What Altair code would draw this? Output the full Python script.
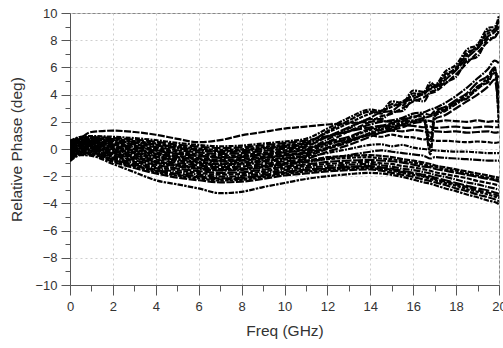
import altair as alt
import pandas as pd

# Frequency grid (GHz)
freq = [0, 0.5, 1, 2, 3, 4, 5, 6, 7, 8, 9, 10, 11,
        12, 13, 14, 14.5, 15, 15.5, 16, 16.5, 16.8, 17, 17.5, 18, 18.5, 19, 19.5, 19.8, 20]

# Relative phase (deg) per measured curve
t01 = [0.1, 0.8, 1.25, 1.35, 1.25, 1.05, 0.75, 0.5, 0.65, 1.0, 1.25, 1.5, 1.65,
       1.8, 1.9, 2.0, 2.05, 2.0, 2.1, 2.0, 2.1, 2.05, 2.0, 2.1, 2.05, 2.0, 2.1, 2.0, 2.05, 2.0]
a01 = [0.6, 0.9, 0.95, 0.9, 0.8, 0.65, 0.45, 0.3, 0.2, 0.25, 0.4, 0.55, 0.75,
       1.5, 2.3, 2.9, 2.8, 3.5, 3.4, 4.3, 4.2, 4.9, 4.7, 5.7, 6.2, 7.3, 7.7, 8.9, 9.0, 9.8]
c02 = [0.53, 0.84, 0.88, 0.81, 0.69, 0.53, 0.32, 0.17, 0.07, 0.12, 0.27, 0.43, 0.62,
       0.95, 1.3, 1.6, 1.7, 1.65, 1.75, 1.7, 1.6, 1.65, 1.55, 1.6, 1.65, 1.55, 1.6, 1.65, 1.6, 1.6]
a05 = [0.42, 0.73, 0.77, 0.66, 0.51, 0.33, 0.12, -0.04, -0.15, -0.1, 0.06, 0.22, 0.42,
       1.3, 2.1, 2.75, 2.6, 3.3, 3.2, 4.1, 4.0, 4.7, 4.6, 5.5, 5.9, 7.1, 7.4, 8.7, 8.8, 9.6]
a02 = [0.46, 0.77, 0.82, 0.72, 0.58, 0.41, 0.2, 0.04, -0.07, -0.02, 0.14, 0.3, 0.5,
       1.2, 1.9, 2.6, 2.8, 3.1, 3.5, 3.9, 4.2, 4.5, 4.6, 5.3, 6.0, 6.9, 7.6, 8.5, 8.8, 9.3]
b01 = [0.38, 0.69, 0.73, 0.6, 0.45, 0.26, 0.04, -0.12, -0.22, -0.17, -0.02, 0.15, 0.34,
       0.9, 1.3, 1.8, 2.0, 2.1, 2.3, 2.6, 2.7, 2.9, 3.0, 3.4, 3.9, 4.5, 5.2, 5.9, 6.5, 6.3]
a03 = [0.31, 0.63, 0.67, 0.51, 0.34, 0.14, -0.09, -0.25, -0.36, -0.31, -0.15, 0.03, 0.21,
       0.9, 1.6, 2.3, 2.7, 2.8, 3.4, 3.7, 4.1, 4.4, 4.5, 5.1, 5.8, 6.7, 7.4, 8.3, 8.6, 9.0]
d01 = [0.24, 0.56, 0.6, 0.42, 0.23, 0.01, -0.21, -0.38, -0.49, -0.44, -0.28, -0.1, 0.09,
       0.4, 0.7, 1.0, 0.9, 1.05, 0.9, 0.85, 0.7, 0.75, 0.6, 0.6, 0.55, 0.5, 0.55, 0.5, 0.45, 0.5]
a06 = [0.18, 0.51, 0.55, 0.35, 0.15, -0.08, -0.32, -0.48, -0.6, -0.55, -0.38, -0.2, -0.02,
       0.7, 1.5, 2.2, 2.2, 2.7, 2.8, 3.6, 3.5, 4.2, 4.3, 4.9, 5.3, 6.5, 6.8, 8.1, 8.2, 8.8]
b02 = [0.15, 0.48, 0.52, 0.31, 0.1, -0.13, -0.37, -0.53, -0.65, -0.6, -0.43, -0.25, -0.07,
       0.5, 0.9, 1.5, 1.7, 1.9, 2.2, 2.3, 2.6, 2.5, 2.8, 3.1, 3.6, 4.1, 4.9, 5.4, 6.0, 3.0]
a04 = [0.08, 0.42, 0.45, 0.22, -0.01, -0.26, -0.49, -0.66, -0.78, -0.73, -0.56, -0.38, -0.19,
       0.5, 1.3, 2.0, 2.4, 2.6, 3.0, 3.5, 3.8, 4.1, 4.2, 4.8, 5.5, 6.3, 7.1, 7.9, 8.3, 8.6]
b06 = [0.04, 0.38, 0.41, 0.16, -0.07, -0.33, -0.57, -0.74, -0.86, -0.81, -0.64, -0.45, -0.26,
       0.3, 0.8, 1.4, 1.6, 1.8, 2.0, 2.4, 2.4, 0.6, 2.6, 3.0, 3.4, 4.0, 4.5, 5.3, 5.8, 1.5]
c03 = [0.01, 0.35, 0.38, 0.12, -0.12, -0.38, -0.62, -0.79, -0.91, -0.86, -0.69, -0.5, -0.32,
       0.1, 0.6, 1.1, 1.2, 1.35, 1.3, 1.4, 1.3, 1.2, 1.3, 1.25, 1.3, 1.2, 1.25, 1.3, 1.2, 1.25]
b03 = [-0.06, 0.29, 0.32, 0.03, -0.23, -0.5, -0.75, -0.92, -1.05, -1.0, -0.82, -0.63, -0.45,
       0.1, 0.6, 1.2, 1.5, 1.6, 1.9, 2.1, 2.2, -0.4, 2.4, 2.8, 3.3, 3.8, 4.4, 5.1, 5.6, 5.2]
b05 = [-0.1, 0.25, 0.28, -0.03, -0.3, -0.57, -0.82, -1.0, -1.12, -1.07, -0.9, -0.7, -0.52,
       0.0, 0.5, 1.1, 1.4, 1.5, 1.8, 2.0, 2.3, 2.4, 2.6, 2.9, 3.5, 3.7, 4.6, 4.9, 5.9, 4.0]
d02 = [-0.14, 0.21, 0.23, -0.08, -0.37, -0.65, -0.9, -1.08, -1.2, -1.15, -0.98, -0.78, -0.6,
       -0.3, 0.0, 0.3, 0.35, 0.2, 0.3, 0.1, 0.0, -0.05, -0.1, -0.15, -0.2, -0.2, -0.25, -0.3, -0.3, -0.3]
b04 = [-0.21, 0.15, 0.17, -0.17, -0.48, -0.77, -1.03, -1.21, -1.34, -1.29, -1.11, -0.9, -0.73,
       -0.2, 0.3, 0.9, 1.2, 1.4, 1.6, 1.9, 2.0, 0.1, 2.2, 2.5, 3.0, 3.5, 4.0, 4.6, 5.1, 2.2]
e01 = [-0.28, 0.08, 0.1, -0.27, -0.59, -0.89, -1.16, -1.34, -1.47, -1.42, -1.24, -1.03, -0.86,
       -0.6, -0.5, -0.45, -0.5, -0.6, -0.75, -0.85, -1.0, -1.1, -1.2, -1.35, -1.5, -1.65, -1.8, -1.95, -2.05, -2.1]
e09 = [-0.32, 0.05, 0.06, -0.32, -0.65, -0.96, -1.22, -1.41, -1.54, -1.49, -1.31, -1.1, -0.92,
       -0.75, -0.65, -0.6, -0.7, -0.75, -0.9, -1.0, -1.15, -1.25, -1.3, -1.5, -1.6, -1.8, -1.95, -2.1, -2.2, -2.25]
d03 = [-0.35, 0.02, 0.03, -0.36, -0.7, -1.02, -1.28, -1.47, -1.6, -1.55, -1.37, -1.15, -0.98,
       -0.7, -0.45, -0.2, -0.1, -0.2, -0.3, -0.4, -0.5, -0.7, -0.6, -0.65, -0.7, -0.75, -0.8, -0.85, -0.85, -0.85]
e02 = [-0.44, -0.06, -0.05, -0.47, -0.83, -1.16, -1.44, -1.62, -1.76, -1.71, -1.52, -1.3, -1.14,
       -0.95, -0.85, -0.8, -0.85, -0.9, -1.0, -1.15, -1.3, -1.35, -1.45, -1.6, -1.75, -1.9, -2.05, -2.2, -2.3, -2.4]
e03 = [-0.51, -0.13, -0.12, -0.56, -0.94, -1.29, -1.56, -1.75, -1.89, -1.84, -1.65, -1.43, -1.26,
       -1.1, -1.0, -0.95, -1.05, -1.1, -1.25, -1.35, -1.5, -1.6, -1.7, -1.85, -2.0, -2.15, -2.35, -2.5, -2.6, -2.7]
e04 = [-0.58, -0.19, -0.18, -0.65, -1.05, -1.41, -1.69, -1.88, -2.03, -1.98, -1.78, -1.55, -1.39,
       -1.25, -1.15, -1.1, -1.2, -1.3, -1.45, -1.55, -1.7, -1.8, -1.9, -2.05, -2.25, -2.45, -2.6, -2.8, -2.9, -3.0]
e05 = [-0.65, -0.26, -0.25, -0.75, -1.16, -1.53, -1.82, -2.01, -2.16, -2.11, -1.91, -1.68, -1.52,
       -1.4, -1.3, -1.25, -1.35, -1.45, -1.6, -1.75, -1.9, -2.0, -2.1, -2.3, -2.5, -2.7, -2.9, -3.05, -3.2, -3.3]
e10 = [-0.69, -0.3, -0.29, -0.8, -1.22, -1.6, -1.9, -2.09, -2.24, -2.19, -1.99, -1.75, -1.6,
       -1.45, -1.35, -1.3, -1.45, -1.5, -1.7, -1.8, -2.0, -2.1, -2.2, -2.4, -2.6, -2.8, -3.05, -3.2, -3.35, -3.45]
e06 = [-0.73, -0.34, -0.33, -0.86, -1.29, -1.68, -1.97, -2.17, -2.32, -2.27, -2.07, -1.83, -1.67,
       -1.55, -1.45, -1.4, -1.5, -1.6, -1.75, -1.9, -2.05, -2.2, -2.3, -2.5, -2.7, -2.95, -3.15, -3.35, -3.5, -3.6]
e07 = [-0.8, -0.4, -0.4, -0.95, -1.4, -1.8, -2.1, -2.3, -2.45, -2.4, -2.2, -1.95, -1.8,
       -1.65, -1.55, -1.5, -1.6, -1.75, -1.9, -2.05, -2.25, -2.35, -2.45, -2.65, -2.9, -3.1, -3.35, -3.55, -3.7, -3.85]
e08 = [-0.9, -0.45, -0.5, -1.1, -1.7, -2.3, -2.6, -2.9, -3.25, -3.15, -2.8, -2.5, -2.2,
       -2.0, -1.85, -1.75, -1.8, -1.9, -2.05, -2.25, -2.45, -2.55, -2.65, -2.9, -3.1, -3.35, -3.55, -3.8, -3.9, -4.05]

curves = {"t01": t01, "a01": a01, "c02": c02, "a05": a05, "a02": a02, "b01": b01,
          "a03": a03, "d01": d01, "a06": a06, "b02": b02, "a04": a04, "b06": b06,
          "c03": c03, "b03": b03, "b05": b05, "d02": d02, "b04": b04, "e01": e01,
          "e09": e09, "d03": d03, "e02": e02, "e03": e03, "e04": e04, "e05": e05,
          "e10": e10, "e06": e06, "e07": e07, "e08": e08}
curve_names = list(curves.keys())

# dash styles cycled over the curves so the dashes do not line up
dash_styles = [[7, 1.5], [5, 1.2, 2, 1.2], [9, 2], [6, 1.2], [4, 1.2], [8, 1.2, 2, 1.2],
               [10, 1.5], [5, 1.5], [7, 1.2, 1.5, 1.2], [11, 2], [6, 2], [3.5, 1.2],
               [8, 1.5], [5.5, 1.2, 2.5, 1.2]]

rows = []
for name, vals in curves.items():
    assert len(vals) == len(freq), name
    for f, v in zip(freq, vals):
        rows.append({"curve": name, "freq": f, "phase": v})
df = pd.DataFrame(rows)

FONT = "Liberation Sans"
even = "datum.value % 2 === 0"

x_axis = alt.Axis(
    values=list(range(0, 21)),
    labelExpr=f"{even} ? datum.label : ''",
    tickSize={"condition": {"test": even, "value": 10}, "value": 6},
    gridOpacity={"condition": {"test": even, "value": 1}, "value": 0},
    grid=True, gridDash=[2, 3], gridColor="#cfcfcf", gridWidth=1,
    domainColor="#555555", tickColor="#555555", domainWidth=1, tickWidth=1,
    labelFont=FONT, labelFontSize=13, labelColor="#333333", labelPadding=5,
    labelFlush=False, labelOverlap=False,
    title="Freq (GHz)", titleFont=FONT, titleFontSize=15.5, titleFontWeight="normal",
    titleColor="#333333", titleX=214.5, titleY=45, titleBaseline="middle", titleAlign="center",
)
y_axis = alt.Axis(
    values=list(range(-10, 11)),
    labelExpr=f"{even} ? datum.label : ''",
    tickSize={"condition": {"test": even, "value": 9}, "value": 5},
    gridOpacity={"condition": {"test": even, "value": 1}, "value": 0},
    grid=True, gridDash=[2, 3], gridColor="#cfcfcf", gridWidth=1,
    domainColor="#555555", tickColor="#555555", domainWidth=1, tickWidth=1,
    labelFont=FONT, labelFontSize=13, labelColor="#333333", labelPadding=4,
    labelFlush=False, labelOverlap=False,
    title="Relative Phase (deg)", titleFont=FONT, titleFontSize=15.5, titleFontWeight="normal",
    titleColor="#333333", titleX=-54, titleY=136, titleBaseline="middle", titleAlign="center",
)

chart = alt.Chart(df).mark_line(
    color="black", strokeWidth=2.2, interpolate="monotone", clip=True
).encode(
    x=alt.X("freq:Q", scale=alt.Scale(domain=[0, 20], nice=False, zero=False), axis=x_axis),
    y=alt.Y("phase:Q", scale=alt.Scale(domain=[-10, 10], nice=False), axis=y_axis),
    strokeDash=alt.StrokeDash("curve:N", sort=curve_names,
                              scale=alt.Scale(domain=curve_names, range=dash_styles), legend=None),
    detail="curve:N",
).properties(
    width=429, height=272, autosize="none",
    padding={"left": 70, "top": 13, "right": 4, "bottom": 63},
    background="white",
).configure_view(stroke="#888888", strokeWidth=1)

chart.save("out.html", embed_options={"renderer": "svg", "actions": False})
